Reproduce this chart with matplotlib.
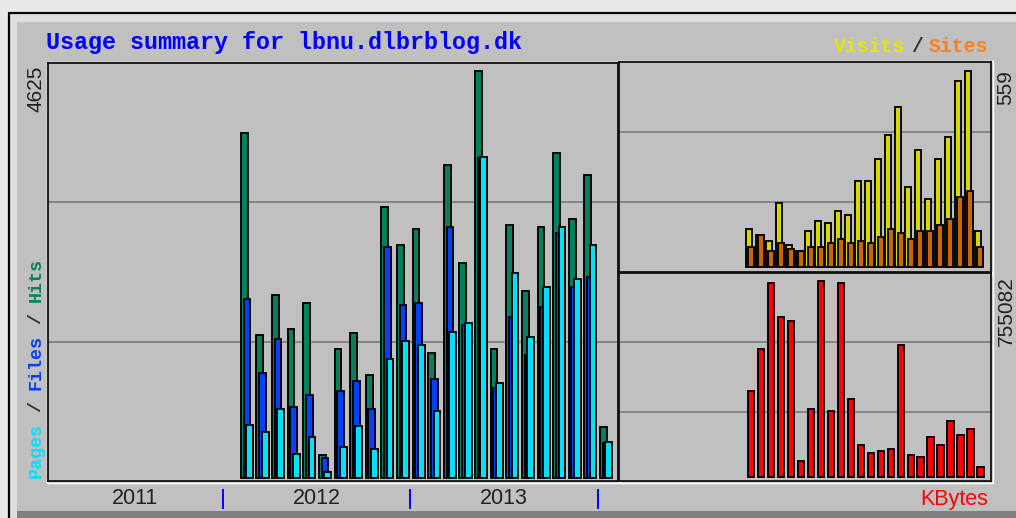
import numpy as np
import matplotlib.pyplot as plt
from matplotlib.patches import Rectangle

W, H = 1016, 518

years = ['2011', '2012', '2013']
year_edges = [11, 23, 35]
first_slot = 12

hits = [3924, 1625, 2080, 1693, 1985, 261, 1466, 1644, 1170, 3083, 2648, 2830,
        1417, 3557, 2447, 4625, 1463, 2875, 2125, 2856, 3690, 2940, 3443, 576]
files = [2038, 1190, 1576, 803, 943, 231, 989, 1102, 781, 2628, 1966, 1985,
         1125, 2856, 1739, 3633, 1019, 1833, 1398, 1947, 2788, 2174, 2288, 394]
pages = [599, 526, 781, 273, 462, 72, 349, 594, 326, 1349, 1557, 1511,
         761, 1663, 1758, 3651, 1076, 2326, 1606, 2167, 2849, 2261, 2648, 413]
visits = [109, 93, 75, 182, 64, 46, 103, 132, 126, 160, 149, 246,
          246, 308, 377, 457, 228, 332, 194, 308, 371, 531, 559, 103]
sites = [58, 93, 46, 70, 52, 46, 58, 58, 70, 81, 70, 75,
         70, 86, 109, 98, 81, 103, 103, 120, 137, 201, 218, 58]
kbytes = [332000, 493600, 746100, 615400, 601300, 62800, 262800, 755082, 255100, 746100, 301300, 124400,
          93600, 101300, 109000, 509000, 85900, 78200, 155100, 124400, 216700, 162800, 185900, 39700]

C_HITS, C_FILES, C_PAGES = '#00805c', '#0040ff', '#00e0ff'
C_VISITS, C_SITES, C_KBYTES = '#d8d800', '#cc6600', '#ff0000'
GREY = '#c0c0c0'
MONO = 'Liberation Mono'
SANS = 'Liberation Sans'
EDGE = 1.35

fig = plt.figure(figsize=(W / 100, H / 100), dpi=100, facecolor='#e8e8e8')

# frame / bevel drawn in pixel coordinates
bg = fig.add_axes([0, 0, 1, 1], zorder=-5)
bg.set_xlim(0, W)
bg.set_ylim(H, 0)
bg.axis('off')
bg.add_patch(Rectangle((9.5, 13.5), W, H, facecolor='#dedede', edgecolor='none'))
bg.add_patch(Rectangle((17, 21.5), W, H, facecolor=GREY, edgecolor='none'))
bg.add_patch(Rectangle((17, 511), W, 10, facecolor='#808080', edgecolor='none'))
bg.plot([8.8, 8.8, W], [H, 12.8, 12.8], color='black', lw=1.6, solid_capstyle='butt')


def panel(l, t, r, b, xlim, peak, lo, hi):
    bg.add_patch(Rectangle((l - 1.5, t - 1.5), r - l + 3, b - t + 3,
                           facecolor='none', edgecolor='white', lw=1.0))
    ax = fig.add_axes([l / W, 1 - b / H, (r - l) / W, (b - t) / H])
    ax.set_facecolor(GREY)
    ax.set_xlim(*xlim)
    ax.set_ylim(lo * peak, hi * peak)
    y0, y1 = ax.get_ylim()
    for k in (1, 2):
        ax.axhline(y0 + (y1 - y0) * k / 3, color='#7a7a7a', lw=1.2, zorder=0.5)
    ax.set_xticks([])
    ax.set_yticks([])
    for s in ax.spines.values():
        s.set_color('#101010')
        s.set_linewidth(1.3)
    return ax


slots = np.arange(first_slot, first_slot + len(hits))

# left: hits / files / pages
ax1 = panel(48, 63, 618, 481, (-0.2, 36.3), max(hits), -0.0074, 1.0197)
bw = 0.43
ax1.bar(slots + 0.15, hits, bw, align='edge', color=C_HITS, edgecolor='black', lw=EDGE, zorder=2)
ax1.bar(slots + 0.32, files, bw, align='edge', color=C_FILES, edgecolor='black', lw=EDGE, zorder=3)
ax1.bar(slots + 0.49, pages, bw, align='edge', color=C_PAGES, edgecolor='black', lw=EDGE, zorder=4)

# top right: visits / sites
ax2 = panel(619, 62, 991, 272, (-0.5, 36.8), max(visits), -0.024, 1.044)
ax2.bar(slots + 0.2, visits, 0.6, align='edge', color=C_VISITS, edgecolor='black', lw=EDGE, zorder=2)
ax2.bar(slots + 0.43, sites, 0.6, align='edge', color=C_SITES, edgecolor='black', lw=EDGE, zorder=3)

# bottom right: kbytes
ax3 = panel(619, 273, 991, 481, (-0.5, 36.8), max(kbytes), -0.0188, 1.041)
ax3.bar(slots + 0.43, kbytes, 0.65, align='edge', color=C_KBYTES, edgecolor='black', lw=EDGE, zorder=2)

# year labels and separators under the left panel
xt = ax1.get_xaxis_transform()
for e in year_edges:
    ax1.plot([e, e], [-0.022, -0.065], color='#0000ff', lw=1.4, transform=xt, clip_on=False)
bounds = [ax1.get_xlim()[0]] + year_edges
for i, y in enumerate(years):
    ax1.text((bounds[i] + bounds[i + 1]) / 2, -0.043, y, transform=xt, ha='center', va='center',
             fontsize=15.5, family=SANS, color='#202020')

# texts
bg.text(46, 43, 'Usage summary for lbnu.dlbrblog.dk', ha='left', va='center',
        fontsize=16.8, family=MONO, weight='bold', color='#0000ff')
bg.text(988, 46, 'Sites', ha='right', va='center', fontsize=14.2, family=MONO, weight='bold', color='#ff8020')
bg.text(917, 46, '/', ha='center', va='center', fontsize=14.2, family=MONO, weight='bold', color='#303030')
bg.text(905, 46, 'Visits', ha='right', va='center', fontsize=14.2, family=MONO, weight='bold', color='#e6e600')

bg.text(36, 66, f'{max(hits)}', rotation=90, ha='center', va='top', fontsize=15, family=SANS, color='#202020')
bg.text(1006, 70, f'{max(visits)}', rotation=90, ha='center', va='top', fontsize=15, family=SANS, color='#202020')
bg.text(1006, 276, f'{max(kbytes)}', rotation=90, ha='center', va='top', fontsize=15, family=SANS, color='#202020')

# "Pages / Files / Hits" in three colours, one char cell = 11 px
legend_parts = [('Pages', 0, C_PAGES), ('/', 6, '#303030'), ('Files', 8, C_FILES),
                ('/', 14, '#303030'), ('Hits', 16, C_HITS)]
for word, pos, col in legend_parts:
    bg.text(36, 478 - pos * 11, word, rotation=90, rotation_mode='anchor', ha='left', va='center',
            fontsize=13.2, family=MONO, weight='bold', color=col)

bg.text(988, 499, 'KBytes', ha='right', va='center', fontsize=15.5, family=SANS, color='#ff0000')

fig.savefig('out.png', dpi=100, facecolor=fig.get_facecolor())
